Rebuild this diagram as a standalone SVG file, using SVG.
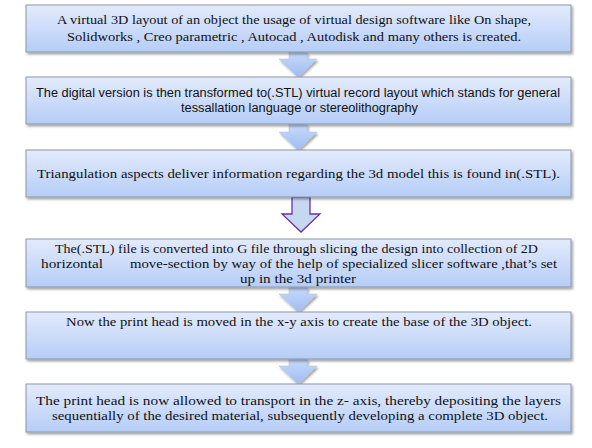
<svg xmlns="http://www.w3.org/2000/svg" width="592" height="448" viewBox="0 0 592 448">
<defs>
<linearGradient id="gBox" x1="0" y1="0" x2="0" y2="1">
<stop offset="0" stop-color="#e3ebfc"/>
<stop offset="1" stop-color="#b5cdf7"/>
</linearGradient>
<linearGradient id="gArr" x1="0" y1="0" x2="0" y2="1">
<stop offset="0" stop-color="#c9dafb"/>
<stop offset="1" stop-color="#9dbcf2"/>
</linearGradient>
<filter id="sh" x="-5%" y="-20%" width="110%" height="150%">
<feDropShadow dx="1.5" dy="2" stdDeviation="1" flood-color="#000" flood-opacity="0.35"/>
</filter>
</defs>
<style>
.box{fill:url(#gBox);stroke:#8d96a6;stroke-width:1;filter:url(#sh)}
.arr{fill:url(#gArr);stroke:#a9bfe6;stroke-width:0.5;filter:url(#sh)}
.arr2{fill:#c6d7f0;stroke:#7030a0;stroke-width:1.3}
.s{font-family:"Liberation Serif","DejaVu Serif",serif;font-size:13px;fill:#111}
.c{font-family:"Liberation Sans","Open Sans",sans-serif;font-size:12.5px;fill:#111}
</style>
<rect width="592" height="448" fill="#fff"/>
<g id="connectors">
<path class="arr" d="M289,52 H307 V59 H317 L298,77 L279,59 H289 Z"/>
<path class="arr" d="M289,124 H307 V132 H317 L298,150 L279,132 H289 Z"/>
<path class="arr2" d="M292,197 H310 V214 H320 L301,232 L282,214 H292 Z"/>
<path class="arr" d="M289,287 H307 V294 H317 L298,312 L279,294 H289 Z"/>
<path class="arr" d="M289,359 H307 V366 H317 L298,384 L279,366 H289 Z"/>
</g>
<g id="n1">
<rect class="box" x="26" y="5" width="545" height="47"/>
<text class="s" x="57" y="24" textLength="474" lengthAdjust="spacingAndGlyphs">A virtual 3D layout of an object the usage of virtual design software like On shape,</text>
<text class="s" x="67" y="41" textLength="454" lengthAdjust="spacingAndGlyphs">Solidworks , Creo parametric , Autocad , Autodisk and many others is created.</text>
</g>
<g id="n2">
<rect class="box" x="26" y="77" width="545" height="47"/>
<text class="c" x="36" y="97" textLength="524" lengthAdjust="spacingAndGlyphs">The digital version  is then transformed to(.STL) virtual record layout which stands for general</text>
<text class="c" x="181" y="112" textLength="237" lengthAdjust="spacingAndGlyphs">tessallation language or stereolithography</text>
</g>
<g id="n3">
<rect class="box" x="26" y="150" width="545" height="47"/>
<text class="s" x="37" y="178" textLength="523" lengthAdjust="spacingAndGlyphs">Triangulation aspects deliver information regarding the 3d model this is found in(.STL).</text>
</g>
<g id="n4">
<rect class="box" x="26" y="239" width="545" height="48"/>
<text class="s" x="55" y="253" textLength="483" lengthAdjust="spacingAndGlyphs">The(.STL) file is converted into G file through slicing the design into collection of 2D</text>
<text class="s" x="41" y="268" textLength="62" lengthAdjust="spacingAndGlyphs">horizontal</text>
<text class="s" x="130" y="268" textLength="427" lengthAdjust="spacingAndGlyphs">move-section by way of the help of specialized slicer software ,that’s set</text>
<text class="s" x="240" y="283" textLength="116" lengthAdjust="spacingAndGlyphs">up in the 3d printer</text>
</g>
<g id="n5">
<rect class="box" x="26" y="312" width="545" height="47"/>
<text class="s" x="66" y="326" textLength="466" lengthAdjust="spacingAndGlyphs">Now the print head is moved in the x-y axis to create the base of the 3D object.</text>
</g>
<g id="n6">
<rect class="box" x="26" y="384" width="545" height="48"/>
<text class="s" x="36" y="405" textLength="525" lengthAdjust="spacingAndGlyphs">The print head is now allowed to transport in the z- axis, thereby depositing  the layers</text>
<text class="s" x="52" y="420" textLength="496" lengthAdjust="spacingAndGlyphs">sequentially of the desired material, subsequently developing a complete 3D object.</text>
</g>
</svg>
